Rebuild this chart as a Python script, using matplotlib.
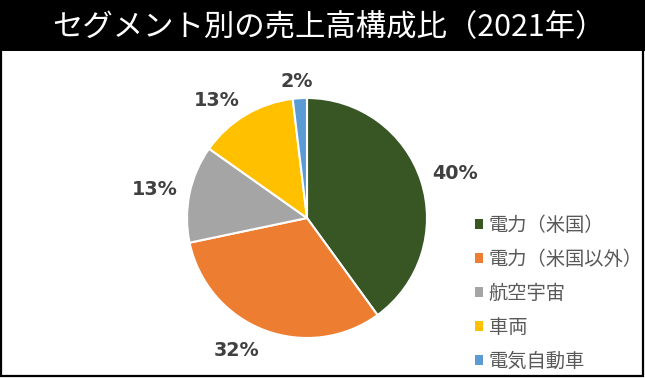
import numpy as np
import matplotlib
matplotlib.use("Agg")
import matplotlib.pyplot as plt
from matplotlib.patches import Rectangle, Patch

plt.rcParams['font.family'] = ['Noto Sans CJK JP', 'DejaVu Sans']

title = "セグメント別の売上高構成比（2021年）"
categories = ["電力（米国）", "電力（米国以外）", "航空宇宙", "車両", "電気自動車"]
values = [40.0, 31.7, 13.1, 13.3, 1.9]
colors = ["#375623", "#ED7D31", "#A5A5A5", "#FFC000", "#5B9BD5"]

W, H = 645, 378
fig = plt.figure(figsize=(W / 100, H / 100), dpi=100)
fig.patch.set_facecolor("white")

# title bar
bar_h = 51
fig.patches.append(Rectangle((0, 1 - bar_h / H), 1, bar_h / H, transform=fig.transFigure,
                             facecolor="black", edgecolor="none", zorder=0))
fig.text(0.5 + 6 / W, 1 - (bar_h / 2 + 1) / H, title, color="white", fontsize=21.9,
         ha="center", va="center")
# outer frame
fig.patches.append(Rectangle((1.2 / W, 1.6 / H), (W - 3.0) / W, (H - 2.5) / H,
                             transform=fig.transFigure, facecolor="none",
                             edgecolor="black", linewidth=1.6, zorder=5))

# pie axes: center (307, 218) px, radius 120 px -> limits +-1.5 in a 360 px box
cx, cy, R = 307, 218, 120
lim = 1.5
side = 2 * lim * R
ax = fig.add_axes([(cx - side / 2) / W, (H - cy - side / 2) / H, side / W, side / H])
wedges, _ = ax.pie(values, colors=colors, startangle=90, counterclock=False,
                   wedgeprops=dict(edgecolor="white", linewidth=1.5))
ax.set_xlim(-lim, lim)
ax.set_ylim(-lim, lim)
ax.set_aspect("equal")
ax.axis("off")

# outside-end labels (box corner placed just outside the rim)
total = sum(values)
gap = 0.10
for w, v in zip(wedges, values):
    th = np.deg2rad((w.theta1 + w.theta2) / 2)
    lab = f"{v / total * 100:.0f}%"
    hw = 0.066 * len(lab) - 0.01
    hh = 0.058
    c, s = np.cos(th), np.sin(th)
    x = (1 + gap) * c + hw * np.clip(3 * c, -1, 1)
    y = (1 + gap) * s + hh * np.clip(3 * s, -1, 1) - 0.022
    ax.text(x, y, lab, ha="center", va="center", fontsize=13.8, fontweight="bold",
            color="#404040", family="DejaVu Sans")

handles = [Patch(facecolor=c, edgecolor="none") for c in colors]
fig.legend(handles, categories, loc="upper left", bbox_to_anchor=(475 / W, 1 - 215 / H),
           frameon=False, fontsize=13.9, labelcolor="#595959", handlelength=0.4,
           handleheight=0.4, handletextpad=0.3, labelspacing=0.67, borderpad=0,
           borderaxespad=0)

fig.savefig("out.png", dpi=100)
